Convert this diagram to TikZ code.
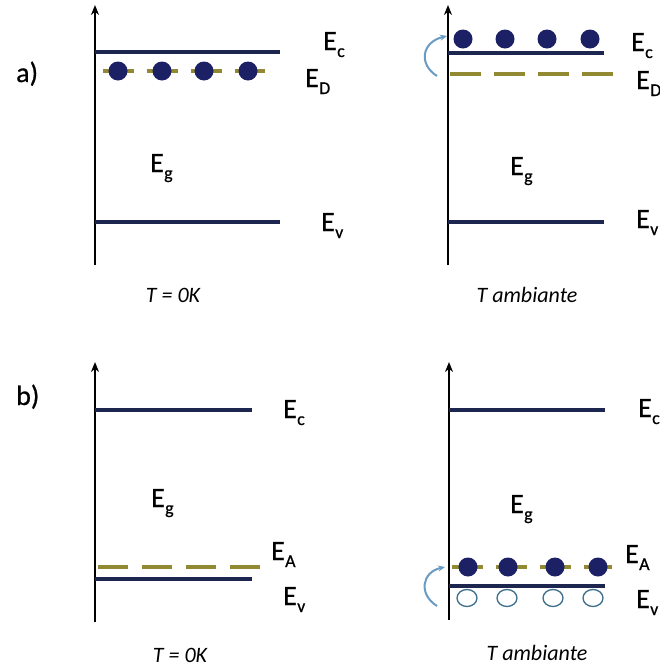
\documentclass[tikz,border=0pt]{standalone}
\usepackage{fontspec}
\setmainfont{Carlito}
\usetikzlibrary{arrows.meta,shapes.geometric}
\definecolor{band}{RGB}{28,38,78}
\definecolor{dotc}{RGB}{28,32,100}
\definecolor{olivec}{RGB}{145,138,50}
\definecolor{arrc}{RGB}{105,155,195}
\definecolor{holec}{RGB}{60,110,140}
\newcommand\En[1]{E\kern0.3pt\raisebox{-7pt}{\fontsize{18}{18}\selectfont #1}}
\begin{document}
\begin{tikzpicture}[x=1pt,y=-1pt,
 axis/.style={line width=2.3pt,black,-{Stealth[length=10pt,width=8pt]}},
 level/.style={line width=3.2pt,band},
 dlevel/.style={line width=3.4pt,olivec,dash pattern=on 31pt off 13pt},
 el/.style={circle,fill=dotc,inner sep=0,minimum size=19pt},
 ho/.style={ellipse,draw=holec,line width=1.3pt,minimum width=20pt,minimum height=17pt,inner sep=0},
 lab/.style={anchor=base west,inner sep=0,font=\fontsize{28}{28}\selectfont\addfontfeature{FakeBold=0.6}},
 temp/.style={anchor=base,inner sep=0,font=\fontsize{22}{22}\selectfont\itshape},
 jump/.style={line width=2pt,arrc,-{Stealth[length=7pt,width=6pt]}}]
\useasboundingbox[fill=white] (0,0) rectangle (660,670);

% ---------- a) left ----------
\node[lab] (la) at (16,82) {a)};
\coordinate (ax1b) at (95,265); \coordinate (ax1t) at (95,5);
\draw[axis] (ax1b) -- (ax1t);
\draw[level] (95,52) coordinate (c1a) -- (280,52) coordinate (c1b);
\draw[dlevel] (103,71) coordinate (d1a) -- (265,71) coordinate (d1b);
\foreach \x [count=\i] in {118,162,204,248} \node[el] (e1\i) at (\x,71) {};
\draw[level] (95,222) coordinate (v1a) -- (280,222) coordinate (v1b);
\node[lab] (Ec1) at (323,50) {\En{c}};
\node[lab] (Ed1) at (305,87) {\En{D}};
\node[lab] (Eg1) at (150,172) {\En{g}};
\node[lab] (Ev1) at (321,231) {\En{v}};
\node[temp] (t1) at (173,302) {T = 0K};

% ---------- a) right ----------
\coordinate (ax2b) at (448,265); \coordinate (ax2t) at (448,5);
\draw[axis] (ax2b) -- (ax2t);
\foreach \x [count=\i] in {463,505,547,590} \node[el] (e2\i) at (\x,39) {};
\draw[level] (448,53) coordinate (c2a) -- (604,53) coordinate (c2b);
\draw[dlevel] (450,74) coordinate (d2a) -- (613,74) coordinate (d2b);
\draw[level] (448,222) coordinate (v2a) -- (604,222) coordinate (v2b);
\coordinate (j1s) at (437,76); \coordinate (j1e) at (447,36);
\draw[jump] (j1s) .. controls (418,64) and (422,42) .. (j1e);
\node[lab] (Ec2) at (631,51) {\En{c}};
\node[lab] (Ed2) at (636,89) {\En{D}};
\node[lab] (Eg2) at (510,175) {\En{g}};
\node[lab] (Ev2) at (636,228) {\En{v}};
\node[temp] (t2) at (527,302) {T ambiante};

% ---------- b) left ----------
\node[lab] (lb) at (16,405) {b)};
\coordinate (ax3b) at (95,622); \coordinate (ax3t) at (95,362);
\draw[axis] (ax3b) -- (ax3t);
\draw[level] (95,410) coordinate (c3a) -- (252,410) coordinate (c3b);
\draw[dlevel,dash pattern=on 30pt off 14pt] (98,567) coordinate (a3a) -- (262,567) coordinate (a3b);
\draw[level] (95,579) coordinate (v3a) -- (252,579) coordinate (v3b);
\node[lab] (Ec3) at (283,418) {\En{c}};
\node[lab] (Ea3) at (271,560) {\En{A}};
\node[lab] (Ev3) at (283,605) {\En{v}};
\node[lab] (Eg3) at (151,507) {\En{g}};
\node[temp] (t3) at (180,662) {T = 0K};

% ---------- b) right ----------
\coordinate (ax4b) at (449,620); \coordinate (ax4t) at (449,362);
\draw[axis] (ax4b) -- (ax4t);
\draw[level] (449,410) coordinate (c4a) -- (605,410) coordinate (c4b);
\draw[dlevel] (452,567) coordinate (a4a) -- (612,567) coordinate (a4b);
\foreach \x [count=\i] in {468,508,555,598} \node[el] (e4\i) at (\x,567) {};
\draw[level] (449,586) coordinate (v4a) -- (605,586) coordinate (v4b);
\foreach \x [count=\i] in {467,507,553,593} \node[ho] (h4\i) at (\x,598) {};
\coordinate (j2s) at (437,606); \coordinate (j2e) at (445,567);
\draw[jump] (j2s) .. controls (418,594) and (422,572) .. (j2e);
\node[lab] (Ec4) at (638,417) {\En{c}};
\node[lab] (Ea4) at (625,563) {\En{A}};
\node[lab] (Ev4) at (636,608) {\En{v}};
\node[lab] (Eg4) at (510,513) {\En{g}};
\node[temp] (t4) at (537,660) {T ambiante};
\end{tikzpicture}
\end{document}
